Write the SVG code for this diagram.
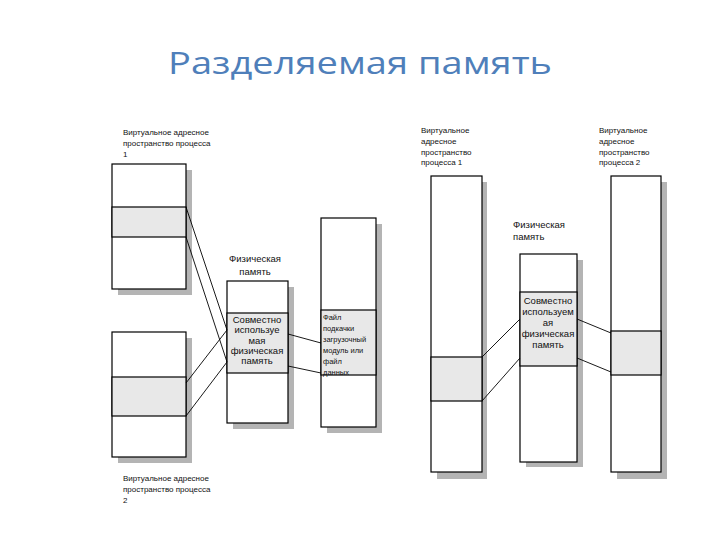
<svg xmlns="http://www.w3.org/2000/svg" width="720" height="540" viewBox="0 0 720 540">
<style>
.bg{fill:#ffffff}
.sh{fill:#b4b4b4;stroke:none}
.box{fill:#ffffff;stroke:#000;stroke-width:1.2}
.band{fill:#e8e8e8;stroke:#000;stroke-width:1.2}
.ln{stroke:#000;stroke-width:0.9;fill:none}
.title{font-family:"Open Sans","Liberation Sans",sans-serif;font-size:31px;fill:#4f7fba}
.lbl{font-family:"Liberation Sans","DejaVu Sans",sans-serif;font-size:8px;fill:#111}
.lbl2{font-family:"Liberation Sans","DejaVu Sans",sans-serif;font-size:9.5px;fill:#111}
.in{font-family:"Liberation Sans","DejaVu Sans",sans-serif;font-size:9.5px;fill:#111;text-anchor:middle}
.fl{font-family:"Liberation Sans","DejaVu Sans",sans-serif;font-size:7.5px;fill:#111}
</style>
<rect class="bg" x="0" y="0" width="720" height="540"/>
<text class="title" x="168" y="74" textLength="384" lengthAdjust="spacingAndGlyphs">Разделяемая память</text>

<g id="vas1-left">
<rect class="sh" x="118" y="170" width="74" height="125"/>
<rect class="box" x="112" y="164" width="74" height="125"/>
<rect class="band" x="112" y="207" width="74" height="30"/>
<text class="lbl" x="123" y="135">Виртуальное адресное</text>
<text class="lbl" x="123" y="146">пространство процесса</text>
<text class="lbl" x="123" y="157">1</text>
</g>

<g id="vas2-left">
<rect class="sh" x="118" y="338" width="74" height="125"/>
<rect class="box" x="112" y="332" width="74" height="125"/>
<rect class="band" x="112" y="377" width="74" height="39"/>
<text class="lbl" x="123" y="481">Виртуальное адресное</text>
<text class="lbl" x="123" y="492">пространство процесса</text>
<text class="lbl" x="123" y="503">2</text>
</g>

<g id="phys-left">
<rect class="sh" x="233" y="287" width="61" height="142"/>
<rect class="box" x="227" y="281" width="61" height="142"/>
<rect class="band" x="227" y="313" width="61" height="60"/>
<text class="lbl2" x="255" y="262" text-anchor="middle">Физическая</text>
<text class="lbl2" x="255" y="275" text-anchor="middle">память</text>
<text class="in" x="257" y="323">Совместно</text>
<text class="in" x="257" y="333">используе</text>
<text class="in" x="257" y="344">мая</text>
<text class="in" x="257" y="354">физическая</text>
<text class="in" x="257" y="364">память</text>
</g>

<g id="file">
<rect class="sh" x="327" y="224" width="55" height="209"/>
<rect class="box" x="321" y="218" width="55" height="209"/>
<rect class="band" x="321" y="310" width="55" height="65"/>
<text class="fl" x="323" y="320">Файл</text>
<text class="fl" x="323" y="331">подкачки</text>
<text class="fl" x="323" y="342">загрузочный</text>
<text class="fl" x="323" y="353">модуль или</text>
<text class="fl" x="323" y="364">файл</text>
<text class="fl" x="323" y="375">данных</text>
</g>

<g id="vas1-right">
<rect class="sh" x="437" y="182" width="50" height="297"/>
<rect class="box" x="431" y="176" width="51" height="296"/>
<rect class="band" x="431" y="357" width="51" height="44"/>
<text class="lbl" x="421" y="133">Виртуальное</text>
<text class="lbl" x="421" y="144">адресное</text>
<text class="lbl" x="421" y="155">пространство</text>
<text class="lbl" x="421" y="165">процесса 1</text>
</g>

<g id="phys-right">
<rect class="sh" x="526" y="260" width="57" height="207"/>
<rect class="box" x="520" y="254" width="57" height="208"/>
<rect class="band" x="520" y="292" width="57" height="74"/>
<text class="lbl2" x="513" y="228">Физическая</text>
<text class="lbl2" x="513" y="240">память</text>
<text class="in" x="548" y="304">Совместно</text>
<text class="in" x="548" y="315">используем</text>
<text class="in" x="548" y="326">ая</text>
<text class="in" x="548" y="337">физическая</text>
<text class="in" x="548" y="348">память</text>
</g>

<g id="vas2-right">
<rect class="sh" x="617" y="182" width="50" height="297"/>
<rect class="box" x="611" y="176" width="50" height="296"/>
<rect class="band" x="611" y="331" width="50" height="44"/>
<text class="lbl" x="599" y="133">Виртуальное</text>
<text class="lbl" x="599" y="144">адресное</text>
<text class="lbl" x="599" y="155">пространство</text>
<text class="lbl" x="599" y="165">процесса 2</text>
</g>

<g id="connectors">
<line class="ln" x1="186" y1="207" x2="227" y2="330"/>
<line class="ln" x1="186" y1="237" x2="227" y2="362"/>
<line class="ln" x1="186" y1="383" x2="227" y2="330"/>
<line class="ln" x1="186" y1="416" x2="227" y2="362"/>
<line class="ln" x1="288" y1="334" x2="321" y2="343"/>
<line class="ln" x1="288" y1="366" x2="321" y2="373"/>
<line class="ln" x1="482" y1="357" x2="520" y2="319"/>
<line class="ln" x1="482" y1="401" x2="520" y2="358"/>
<line class="ln" x1="577" y1="319" x2="611" y2="333"/>
<line class="ln" x1="577" y1="358" x2="611" y2="372"/>
</g>
</svg>
